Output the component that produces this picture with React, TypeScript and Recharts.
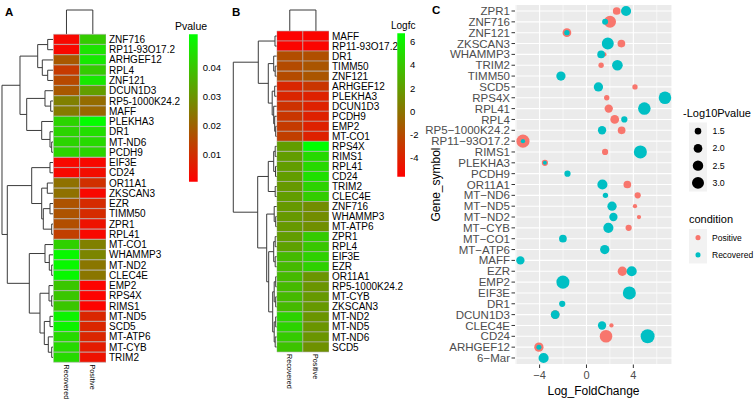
import React from "react";
import {
  BarChart,
  Bar,
  Cell,
  ComposedChart,
  ScatterChart,
  Scatter,
  XAxis,
  YAxis,
  ZAxis,
  CartesianGrid,
  ReferenceLine,
  ReferenceArea,
} from "recharts";

// ---------- panel A: p-value heatmap ----------
const genesA = [
  "ZNF716", "RP11-93O17.2", "ARHGEF12", "RPL4", "ZNF121", "DCUN1D3", "RP5-1000K24.2", "MAFF",
  "PLEKHA3", "DR1", "MT-ND6", "PCDH9", "EIF3E", "CD24", "OR11A1", "ZKSCAN3",
  "EZR", "TIMM50", "ZPR1", "RPL41", "MT-CO1", "WHAMMP3", "MT-ND2", "CLEC4E",
  "EMP2", "RPS4X", "RIMS1", "MT-ND5", "SCD5", "MT-ATP6", "MT-CYB", "TRIM2",
];
const pRecoveredA = [
  0.002, 0.002, 0.018, 0.012, 0.015, 0.018, 0.026, 0.025,
  0.043, 0.043, 0.043, 0.043, 0.002, 0.002, 0.023, 0.023,
  0.017, 0.017, 0.016, 0.013, 0.042, 0.05, 0.05, 0.05,
  0.04, 0.04, 0.04, 0.049, 0.049, 0.044, 0.044, 0.044,
];
const pPositiveA = [
  0.041, 0.046, 0.047, 0.041, 0.047, 0.032, 0.022, 0.021,
  0.051, 0.045, 0.044, 0.043, 0.002, 0.003, 0.01, 0.002,
  0.009, 0.009, 0.004, 0.002, 0.026, 0.027, 0.024, 0.024,
  0.001, 0.001, 0.001, 0.008, 0.008, 0.008, 0.006, 0.004,
];
const pRange: [number, number] = [0.0005, 0.0515];
const pTicks = [0.01, 0.02, 0.03, 0.04];

// dendrograms: [left, right, height], leaves are row indices
type Tree = number | [Tree, Tree, number];
const rowTreeA: Tree = [
  [
    [[0, 1, 5.6], [2, [3, 4, 5.6], 11], 15.6],
    [[5, [6, 7, 2.6], 8.3], [8, [9, [10, 11, 1.6], 3.3], 11.6], 26.6],
    33.3,
  ],
  [
    [[12, 13, 3.3], [[14, 15, 6], [[16, 17, 3.3], [18, 19, 1.6], 10], 11.6], 21.6],
    [
      [20, [21, [22, 23, 1.6], 4], 8.3],
      [[24, [25, 26, 1.6], 4.3], [[27, 28, 3.3], [29, [30, 31, 1.6], 5], 9], 13.3],
      24,
    ],
    46,
  ],
  51.3,
];

// ---------- panel B: log fold change heatmap ----------
const genesB = [
  "MAFF", "RP11-93O17.2", "DR1", "TIMM50", "ZNF121", "ARHGEF12", "PLEKHA3", "DCUN1D3",
  "PCDH9", "EMP2", "MT-CO1", "RPS4X", "RIMS1", "RPL41", "CD24", "TRIM2",
  "CLEC4E", "ZNF716", "WHAMMP3", "MT-ATP6", "ZPR1", "RPL4", "EIF3E", "EZR",
  "OR11A1", "RP5-1000K24.2", "MT-CYB", "ZKSCAN3", "MT-ND2", "MT-ND5", "MT-ND6", "SCD5",
];
const fcRecoveredB = [
  -5.5, -5.4, -1.9, -2, -2, -3.75, -3.8, -3.2,
  -3, -2.8, -2.6, 2, 2, 2, 2, 1.8,
  2, 1.8, 1.8, 1.8, 2, 2.2, 3.4, 3.4,
  3.4, 3.4, 3.4, 3.4, 4.6, 4.6, 4.2, 3.8,
];
const fcPositiveB = [
  -5.4, -5.4, -1.8, -1.5, -1.5, -3, -4, -4,
  -4, -4, -4, 6.7, 4.9, 4.9, 5.2, 4.6,
  4.3, 1.2, 1.2, 1.3, 4.2, 4, 4.5, 4.5,
  1.6, 1.6, 1.8, 1.8, 1.6, 1.6, 1.6, 1.4,
];
const fcRange: [number, number] = [-5.6, 6.72];
const fcTicks = [-4, -2, 0, 2, 4, 6];
const rowTreeB: Tree = [
  [
    [0, 1, 1.7],
    [[2, [3, 4, 1.5], 3], [[5, 6, 2], [7, [8, [9, 10, 1], 2], 3], 4.5], 8.4],
    18.4,
  ],
  [
    [[[11, 12, 1.5], [13, 14, 1.2], 3], [15, 16, 1.5], 8.4],
    [
      [17, [18, 19, 1], 2.5],
      [
        [[20, 21, 1.5], [22, 23, 1.5], 3],
        [[[24, 25, 1], [26, 27, 1], 2.5], [[28, 29, 1], [30, 31, 1.5], 2.5], 4],
        8,
      ],
      10,
    ],
    19,
  ],
  43.4,
];

const conditions = ["Recovered", "Positive"];
const colTree: Tree = [0, 1, 1];

// ---------- panel C: dot plot ----------
const genesC = [
  "ZPR1", "ZNF716", "ZNF121", "ZKSCAN3", "WHAMMP3", "TRIM2", "TIMM50", "SCD5",
  "RPS4X", "RPL41", "RPL4", "RP5\u22121000K24.2", "RP11\u221293O17.2", "RIMS1", "PLEKHA3", "PCDH9",
  "OR11A1", "MT\u2212ND6", "MT\u2212ND5", "MT\u2212ND2", "MT\u2212CYB", "MT\u2212CO1", "MT\u2212ATP6", "MAFF",
  "EZR", "EMP2", "EIF3E", "DR1", "DCUN1D3", "CLEC4E", "CD24", "ARHGEF12", "6\u2212Mar",
];
const positiveFC = [
  2.58, 2.01, -1.67, 2.98, 1.53, 1.25, null, 4.14,
  1.73, 1.9, 2.41, 3.0, -5.42, 1.59, -3.55, null,
  3.49, 4.37, 4.14, 4.48, 3.6, null, null, null,
  3.06, null, null, null, -2.67, 2.13, 1.67, -4.06, null,
];
const positiveLogP = [
  1.75, 3.0, 2.0, 1.75, 1.15, 1.3, null, 1.3,
  1.3, 1.9, 2.0, 1.75, 3.4, 1.45, 1.45, null,
  1.75, 1.45, 1.15, 1.15, 1.45, null, null, null,
  2.15, null, null, null, 2.0, 1.15, 3.2, 2.15, null,
];
const recoveredFC = [
  3.38, 1.59, -1.67, 1.82, 1.25, 2.64, -2.18, 1.02,
  6.7, 4.94, 3.23, 1.33, -5.42, 4.6, -3.55, -1.62,
  1.36, 1.62, 2.18, 2.3, 1.87, -2.01, 1.56, -5.64,
  3.86, -2.01, 3.66, -2.07, -2.67, 1.33, 5.22, -4.06, -3.66,
];
const recoveredLogP = [
  2.4, 1.4, 1.3, 3.0, 1.75, 2.55, 2.15, 2.15,
  3.2, 3.2, 1.45, 1.9, 1.15, 3.4, 1.1, 1.45,
  2.4, 1.3, 2.15, 1.9, 2.4, 1.75, 2.15, 1.9,
  2.4, 3.4, 3.4, 1.45, 2.0, 1.9, 3.75, 1.25, 2.4,
];
const fcAxisTicks = [-4, 0, 4];
const fcMinorTicks = [-6, -2, 2, 6];
const sizeBreaks = [1.5, 2.0, 2.5, 3.0];
const sizeDomain: [number, number] = [1, 4];
const sizeRange: [number, number] = [6.6, 166.2];

const FONT = "'Liberation Sans', Arial, Helvetica, sans-serif";
const LOW = [255, 0, 0];
const HIGH = [0, 255, 0];
const TREE_COLOR = "#3a3a3a";

function rampColor(v: number, range: [number, number]) {
  const t = Math.max(0, Math.min(1, (v - range[0]) / (range[1] - range[0])));
  const c = LOW.map((l, i) => Math.round(l + (HIGH[i] - l) * t));
  return `rgb(${c[0]},${c[1]},${c[2]})`;
}

type Seg = { h1: number; p1: number; h2: number; p2: number };
function treeSegs(t: Tree, out: Seg[]): { pos: number; h: number } {
  if (typeof t === "number") return { pos: t, h: 0 };
  const l = treeSegs(t[0], out);
  const r = treeSegs(t[1], out);
  const H = t[2];
  out.push({ h1: l.h, p1: l.pos, h2: H, p2: l.pos });
  out.push({ h1: r.h, p1: r.pos, h2: H, p2: r.pos });
  out.push({ h1: H, p1: l.pos, h2: H, p2: r.pos });
  return { pos: (l.pos + r.pos) / 2, h: H };
}

const abs: React.CSSProperties = { position: "absolute", left: 0, top: 0 };

function RowDendro({ tree, n, left, right, top, bottom }: any) {
  const segs: Seg[] = [];
  const root = treeSegs(tree, segs);
  return (
    <div style={abs}>
      <ComposedChart width={right} height={400} margin={{ left, right: 0, top, bottom: 400 - bottom }}>
        <XAxis type="number" dataKey="h" domain={[0, root.h]} reversed hide allowDataOverflow />
        <YAxis type="number" dataKey="p" domain={[-0.5, n - 0.5]} reversed hide allowDataOverflow />
        {segs.map((s, i) => (
          <ReferenceLine
            key={i}
            segment={[{ x: s.h1, y: s.p1 }, { x: s.h2, y: s.p2 }]}
            stroke={TREE_COLOR}
            strokeWidth={1}
            ifOverflow="visible"
          />
        ))}
      </ComposedChart>
    </div>
  );
}

function ColDendro({ left, right, top, bottom }: any) {
  const segs: Seg[] = [];
  const root = treeSegs(colTree, segs);
  return (
    <div style={abs}>
      <ComposedChart width={right} height={400} margin={{ left, right: 0, top, bottom: 400 - bottom }}>
        <XAxis type="number" dataKey="p" domain={[-0.5, 1.5]} hide allowDataOverflow />
        <YAxis type="number" dataKey="h" domain={[0, root.h]} hide allowDataOverflow />
        {segs.map((s, i) => (
          <ReferenceLine
            key={i}
            segment={[{ x: s.p1, y: s.h1 }, { x: s.p2, y: s.h2 }]}
            stroke={TREE_COLOR}
            strokeWidth={1}
            ifOverflow="visible"
          />
        ))}
      </ComposedChart>
    </div>
  );
}

function ColLabel(props: any) {
  const { x, y, payload } = props;
  return (
    <text
      transform={`translate(${x},${y + 2}) rotate(90)`}
      fontSize={7.2}
      fill="#000"
      textAnchor="start"
      dominantBaseline="central"
      fontFamily={FONT}
    >
      {conditions[Math.floor(payload.value)]}
    </text>
  );
}

function Heatmap({ genes, rec, pos, range, left, right, top, bottom }: any) {
  const rows = genes.map((g: string, i: number) => ({ gene: g, c0: 1, c1: 1, rec: rec[i], pos: pos[i] }));
  const labelW = 80;
  return (
    <div style={abs}>
      <BarChart
        layout="vertical"
        width={right + labelW}
        height={400}
        data={rows}
        margin={{ left, right: 0, top, bottom: 0 }}
        barCategoryGap={0}
        barGap={0}
      >
        <XAxis
          type="number"
          domain={[0, 2]}
          ticks={[0.5, 1.5]}
          height={400 - bottom}
          interval={0}
          tickLine={false}
          axisLine={false}
          tickSize={0}
          tickMargin={0}
          tick={(p: any) => <ColLabel {...p} />}
          allowDataOverflow
        />
        <YAxis
          type="category"
          dataKey="gene"
          orientation="right"
          width={labelW}
          interval={0}
          tickLine={false}
          axisLine={false}
          tickSize={0}
          tickMargin={3}
          tick={{ fontSize: 10, fill: "#000", fontFamily: FONT }}
        />
        <Bar dataKey="c0" stackId="s" isAnimationActive={false} stroke="#b4b4b4" strokeWidth={0.6}>
          {rows.map((r: any, i: number) => (
            <Cell key={i} fill={rampColor(r.rec, range)} />
          ))}
        </Bar>
        <Bar dataKey="c1" stackId="s" isAnimationActive={false} stroke="#b4b4b4" strokeWidth={0.6}>
          {rows.map((r: any, i: number) => (
            <Cell key={i} fill={rampColor(r.pos, range)} />
          ))}
        </Bar>
      </BarChart>
    </div>
  );
}

function ColorBar({ id, range, ticks, left, right, top, bottom }: any) {
  return (
    <div style={abs}>
      <ComposedChart width={right + 40} height={400} margin={{ left, right: 0, top, bottom: 400 - bottom }}>
        <defs>
          <linearGradient id={id} x1="0" y1="0" x2="0" y2="1">
            <stop offset="0%" stopColor={rampColor(range[1], range)} />
            <stop offset="100%" stopColor={rampColor(range[0], range)} />
          </linearGradient>
        </defs>
        <XAxis type="number" dataKey="x" domain={[0, 1]} hide allowDataOverflow />
        <YAxis
          type="number"
          dataKey="y"
          domain={range}
          ticks={ticks}
          interval={0}
          orientation="right"
          width={40}
          tickLine={false}
          axisLine={false}
          tickSize={0}
          tickMargin={5}
          allowDataOverflow
          tick={{ fontSize: 9.5, fill: "#000", fontFamily: FONT }}
        />
        <ReferenceArea
          x1={0}
          x2={1}
          y1={range[0]}
          y2={range[1]}
          fill={`url(#${id})`}
          fillOpacity={1}
          stroke="none"
          ifOverflow="visible"
        />
      </ComposedChart>
    </div>
  );
}

function DotPlot() {
  const idx = genesC.map((_, i) => i);
  const posPts = idx
    .filter((i) => positiveFC[i] !== null)
    .map((i) => ({ x: positiveFC[i], y: i, z: positiveLogP[i] }));
  const recPts = idx.map((i) => ({ x: recoveredFC[i], y: i, z: recoveredLogP[i] }));
  return (
    <div style={abs}>
      <ScatterChart width={672} height={400} margin={{ left: 430, right: 0, top: 4.5, bottom: 0 }}>
        <CartesianGrid fill="#EBEBEB" stroke="#ffffff" strokeWidth={1.1} />
        {fcMinorTicks.map((v) => (
          <ReferenceLine key={v} x={v} stroke="#ffffff" strokeWidth={0.6} />
        ))}
        <XAxis
          type="number"
          dataKey="x"
          domain={[-6.1, 7.3]}
          ticks={fcAxisTicks}
          interval={0}
          height={35.5}
          axisLine={false}
          stroke="#333333"
          tickSize={3.5}
          tickMargin={3}
          tickFormatter={(v: number) => (v < 0 ? `\u2212${-v}` : `${v}`)}
          tick={{ fontSize: 11, fill: "#4D4D4D", fontFamily: FONT }}
          allowDataOverflow
        />
        <YAxis
          type="number"
          dataKey="y"
          domain={[-0.6, genesC.length - 0.4]}
          reversed
          ticks={idx}
          interval={0}
          width={85}
          axisLine={false}
          stroke="#333333"
          tickSize={3.5}
          tickMargin={1.5}
          tickFormatter={(i: number) => genesC[i]}
          tick={{ fontSize: 11.5, fill: "#4D4D4D", fontFamily: FONT }}
          allowDataOverflow
        />
        <ZAxis type="number" dataKey="z" domain={sizeDomain} range={sizeRange} />
        <Scatter data={posPts} fill="#F8766D" isAnimationActive={false} />
        <Scatter data={recPts} fill="#00BFC4" isAnimationActive={false} />
      </ScatterChart>
    </div>
  );
}

function SizeLegend() {
  const pts = sizeBreaks.map((b, i) => ({ x: 0.5, y: i, z: b }));
  return (
    <div style={abs}>
      <ScatterChart width={745} height={400} margin={{ left: 689, right: 0, top: 122.5, bottom: 208.5 }}>
        <XAxis type="number" dataKey="x" domain={[0, 1]} hide allowDataOverflow />
        <YAxis
          type="number"
          dataKey="y"
          domain={[-0.5, sizeBreaks.length - 0.5]}
          reversed
          ticks={pts.map((p) => p.y)}
          interval={0}
          orientation="right"
          width={38}
          tickLine={false}
          axisLine={false}
          tickSize={0}
          tickMargin={5.5}
          tickFormatter={(i: number) => sizeBreaks[i].toFixed(1)}
          tick={{ fontSize: 8.8, fill: "#000", fontFamily: FONT }}
          allowDataOverflow
        />
        <ZAxis type="number" dataKey="z" domain={sizeDomain} range={sizeRange} />
        <ReferenceArea x1={0} x2={1} y1={-0.5} y2={sizeBreaks.length - 0.5} fill="#F2F2F2" fillOpacity={1} stroke="none" />
        <Scatter data={pts} fill="#000" isAnimationActive={false} />
      </ScatterChart>
    </div>
  );
}

function ConditionLegend() {
  const labels = ["Positive", "Recovered"];
  const colors = ["#F8766D", "#00BFC4"];
  return (
    <div style={abs}>
      <ScatterChart width={756} height={400} margin={{ left: 689, right: 0, top: 229, bottom: 136.5 }}>
        <XAxis type="number" dataKey="x" domain={[0, 1]} hide allowDataOverflow />
        <YAxis
          type="number"
          dataKey="y"
          domain={[-0.5, 1.5]}
          reversed
          ticks={[0, 1]}
          interval={0}
          orientation="right"
          width={49}
          tickLine={false}
          axisLine={false}
          tickSize={0}
          tickMargin={5}
          tickFormatter={(i: number) => labels[i]}
          tick={{ fontSize: 8.5, fill: "#000", fontFamily: FONT }}
          allowDataOverflow
        />
        <ZAxis type="number" dataKey="z" range={[20, 20]} />
        <ReferenceArea x1={0} x2={1} y1={-0.5} y2={1.5} fill="#F2F2F2" fillOpacity={1} stroke="none" />
        {labels.map((l, i) => (
          <Scatter key={l} data={[{ x: 0.5, y: i, z: 1 }]} fill={colors[i]} isAnimationActive={false} />
        ))}
      </ScatterChart>
    </div>
  );
}

export default function App() {
  return (
    <div style={{ position: "absolute", left: 0, top: 0, width: 756, height: 400, background: "#fff", fontFamily: FONT, overflow: "hidden" }}>
      {/* A */}
      <RowDendro tree={rowTreeA} n={genesA.length} left={2} right={53.3} top={34.3} bottom={362.5} />
      <ColDendro left={53.3} right={106} top={10} bottom={34.3} />
      <Heatmap genes={genesA} rec={pRecoveredA} pos={pPositiveA} range={pRange} left={53.3} right={106} top={34.3} bottom={362.5} />
      <ColorBar id="gradA" range={pRange} ticks={pTicks} left={189} right={197.7} top={34.3} bottom={181.7} />
      {/* B */}
      <RowDendro tree={rowTreeB} n={genesB.length} left={233.3} right={276.7} top={31} bottom={352} />
      <ColDendro left={276.7} right={329} top={10} bottom={31} />
      <Heatmap genes={genesB} rec={fcRecoveredB} pos={fcPositiveB} range={fcRange} left={276.7} right={329} top={31} bottom={352} />
      <ColorBar id="gradB" range={fcRange} ticks={fcTicks} left={397.3} right={405} top={33.3} bottom={176.7} />
      {/* C */}
      <DotPlot />
      <SizeLegend />
      <ConditionLegend />
      <svg width={756} height={400} style={{ ...abs, pointerEvents: "none" }} fontFamily={FONT}>
        <text x={5} y={16} fontSize={11.5} fontWeight="bold">A</text>
        <text x={232} y={16} fontSize={11.5} fontWeight="bold">B</text>
        <text x={432} y={14} fontSize={11.5} fontWeight="bold">C</text>
        <text x={175} y={30} fontSize={10.5}>Pvalue</text>
        <text x={391} y={29} fontSize={10}>Logfc</text>
        <text x={593.5} y={395} fontSize={12} textAnchor="middle">Log_FoldChange</text>
        <text transform="translate(440,184.5) rotate(-90)" fontSize={12} textAnchor="middle">Gene_symbol</text>
        <text x={683} y={116.5} fontSize={11}>-Log10Pvalue</text>
        <text x={689} y={223} fontSize={11}>condition</text>
      </svg>
    </div>
  );
}
